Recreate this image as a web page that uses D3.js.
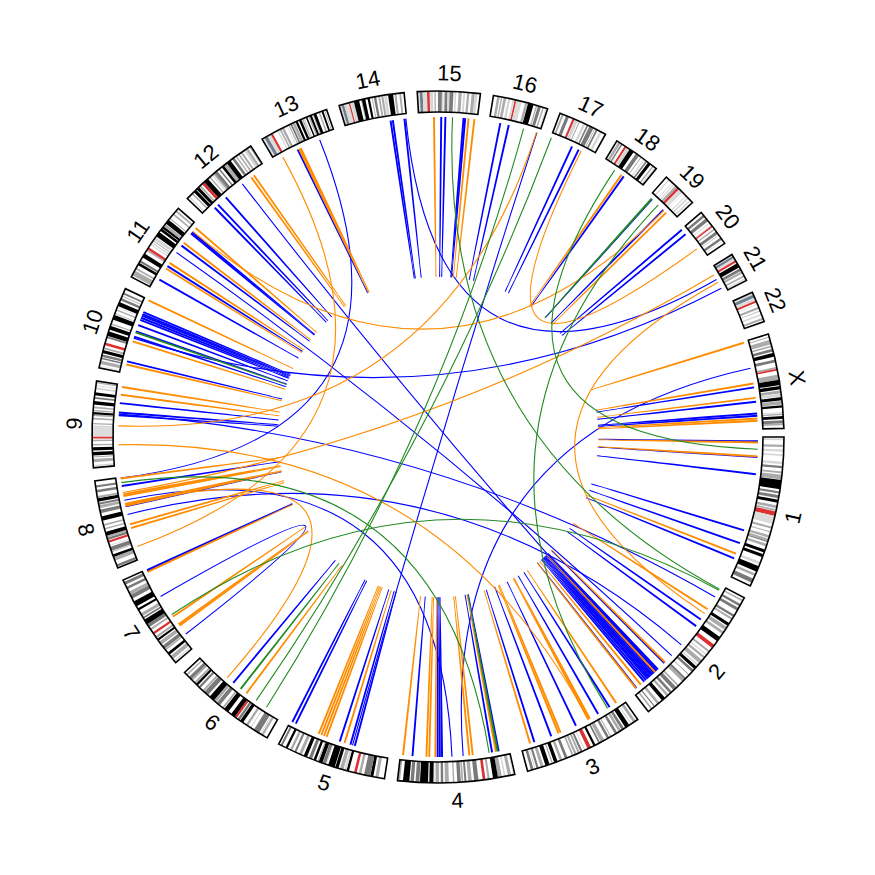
<!DOCTYPE html>
<html><head><meta charset="utf-8">
<script src="https://cdn.jsdelivr.net/npm/d3@7"></script>
<style>html,body{margin:0;padding:0;background:#fff}</style>
</head><body>
<svg id="chart" width="875" height="875"></svg>
<script>
// ---------- data ----------
const chromNames = ["1","2","3","4","5","6","7","8","9","10","11","12","13","14","15","16","17","18","19","20","21","22","X"];
const chromLengths = [249.25,243.20,198.02,191.15,180.92,171.12,159.14,146.36,141.21,135.53,135.01,133.85,115.17,107.35,102.53,90.35,81.20,78.08,59.13,63.03,48.13,51.30,155.27];

// cytobands: [chromosome, start Mb, end Mb, stain]
const bands = [
["1",2.3,5.3,"gpos25"],["1",12.7,16.2,"gpos50"],["1",20.4,23.9,"gpos25"],["1",28,30.8,"gpos25"],["1",40.1,44.1,"gpos25"],["1",46.8,50.7,"gpos75"],["1",56.1,59,"gpos50"],["1",61.3,68.9,"gpos50"],["1",69.7,84.9,"gpos100"],["1",88.4,92,"gpos75"],["1",94.7,99.7,"gpos75"],["1",102.2,107.2,"gpos100"],["1",111.8,116.1,"gpos50"],["1",117.8,120.7,"gpos50"],["1",121.5,128.9,"acen"],["1",128.9,142.6,"gvar"],["1",147,150.3,"gpos50"],["1",155,156.5,"gpos50"],["1",161.5,165.5,"gpos50"],["1",167.2,170.9,"gpos50"],["1",170.9,172.9,"gpos75"],["1",176,180.3,"gpos50"],["1",185.8,190.8,"gpos100"],["1",193.8,198.7,"gpos100"],["1",207.2,211.5,"gpos25"],["1",214.5,224.1,"gpos100"],["1",227.5,231.7,"gpos50"],["1",236.6,243.7,"gpos75"],
["2",4.4,7,"gpos50"],["2",12,16,"gpos75"],["2",19,23.9,"gpos75"],["2",32.1,36,"gpos75"],["2",38.3,41.5,"gpos50"],["2",47.8,52.9,"gpos100"],["2",55,61.3,"gpos50"],["2",64.1,68.6,"gpos50"],["2",75,83.3,"gpos100"],["2",90.5,96.8,"acen"],["2",102.7,106,"gpos50"],["2",110,112,"gpos25"],["2",115,118.8,"gpos50"],["2",122.1,129.1,"gpos50"],["2",131.7,134.3,"gpos25"],["2",136.1,141.5,"gpos100"],["2",143.4,147.9,"gpos75"],["2",153.9,154.9,"gpos75"],["2",161.3,164.9,"gpos75"],["2",164.9,169.7,"gpos50"],["2",177.7,180.6,"gpos50"],["2",183,189.4,"gpos75"],["2",192.9,197.4,"gpos75"],["2",200.3,204.3,"gpos50"],["2",208.2,214.5,"gpos100"],["2",220,224.2,"gpos50"],["2",229.2,231,"gpos75"],["2",234.7,237.3,"gpos50"],
["3",4,8.7,"gpos50"],["3",11.8,13.3,"gpos25"],["3",16.4,23.9,"gpos100"],["3",26.4,30.9,"gpos75"],["3",32.1,36.5,"gpos50"],["3",39.4,43.7,"gpos75"],["3",50.6,52.3,"gpos50"],["3",54.4,58.5,"gpos75"],["3",63.7,69.8,"gpos50"],["3",71.3,74.2,"gpos75"],["3",79.8,83.5,"gpos100"],["3",87.9,93.9,"acen"],["3",98.3,100,"gpos25"],["3",103.1,106.5,"gpos75"],["3",107.9,111.3,"gpos50"],["3",113.5,117.3,"gpos50"],["3",119,121.9,"gpos50"],["3",129.5,134,"gpos75"],["3",138.7,143,"gpos50"],["3",146.8,152.7,"gpos100"],["3",155,157,"gpos50"],["3",160.7,167.6,"gpos100"],["3",170.9,175.7,"gpos50"],["3",179.2,182.7,"gpos75"],["3",184.5,186,"gpos25"],["3",187.9,192.3,"gpos75"],
["4",2,3,"gpos25"],["4",6,11.3,"gpos50"],["4",15.2,17.8,"gpos25"],["4",21.3,27.7,"gpos50"],["4",27.7,35.8,"gpos100"],["4",41.2,44.6,"gpos50"],["4",48.2,52.7,"acen"],["4",59.5,66.6,"gpos75"],["4",70.5,76.3,"gpos50"],["4",79.1,82.4,"gpos75"],["4",84.3,87.1,"gpos50"],["4",88.2,94,"gpos75"],["4",98.8,101.1,"gpos50"],["4",107.7,114.1,"gpos50"],["4",116.8,120.8,"gpos75"],["4",123.8,128.8,"gpos50"],["4",128.8,131.1,"gpos25"],["4",132.8,139.5,"gpos100"],["4",141.5,154.6,"gpos100"],["4",155.6,161.8,"gpos75"],["4",164.5,170.1,"gpos75"],["4",171.9,182.3,"gpos100"],["4",187.1,191,"gpos50"],
["5",9.9,15,"gpos50"],["5",18.4,23.3,"gpos100"],["5",23.3,33.8,"gpos75"],["5",38.4,42.5,"gpos50"],["5",46.1,50.4,"acen"],["5",58.9,63,"gpos100"],["5",63,66.7,"gpos25"],["5",68.1,74,"gpos50"],["5",76.4,81.8,"gpos100"],["5",82.8,93.9,"gpos100"],["5",96.3,98.2,"gpos25"],["5",98.2,103.3,"gpos75"],["5",103.8,110.2,"gpos100"],["5",110.2,112.1,"gpos50"],["5",115,119.1,"gpos100"],["5",122,127.3,"gpos75"],["5",130.6,136.2,"gpos100"],["5",139.5,144.5,"gpos50"],["5",149.5,152.9,"gpos75"],["5",156.7,160.5,"gpos50"],["5",164.9,168.7,"gpos100"],["5",174.1,177.6,"gpos75"],
["6",7.1,10.6,"gpos50"],["6",11.6,13.4,"gpos25"],["6",15.2,25.2,"gpos75"],["6",30.4,32.1,"gpos25"],["6",36.6,40.5,"gpos50"],["6",46.2,51.8,"gpos100"],["6",52.9,57,"gpos75"],["6",58.8,62.6,"acen"],["6",62.6,70,"gpos100"],["6",75.9,83.9,"gpos100"],["6",84.9,88,"gpos50"],["6",93.1,99.5,"gpos75"],["6",100.6,105.5,"gpos50"],["6",105.5,114.6,"gpos100"],["6",118.3,126.1,"gpos75"],["6",127.1,130.3,"gpos50"],["6",135.2,139,"gpos75"],["6",141.2,145,"gpos100"],["6",145,149,"gpos50"],["6",152.5,155.5,"gpos50"],["6",155.5,161,"gpos75"],["6",164.5,167,"gpos50"],
["7",2.8,4.5,"gpos25"],["7",7.3,13.8,"gpos50"],["7",16.5,20.9,"gpos100"],["7",25.5,28,"gpos50"],["7",28.8,35,"gpos75"],["7",37.2,43.3,"gpos50"],["7",45.4,49,"gpos100"],["7",50.5,54,"gpos50"],["7",58,61.7,"acen"],["7",66.2,69.4,"gpos50"],["7",71.8,77.5,"gpos75"],["7",77.5,86.4,"gpos100"],["7",88.2,91.1,"gpos75"],["7",92.8,98,"gpos50"],["7",103.8,107.4,"gpos100"],["7",111.2,120.4,"gpos100"],["7",125.7,132.6,"gpos75"],["7",132.6,138.2,"gpos50"],["7",142.8,147,"gpos75"],["7",150.7,155.6,"gpos75"],
["8",2.2,6.2,"gpos75"],["8",12.7,19,"gpos50"],["8",19,23.3,"gpos100"],["8",27.4,28.8,"gpos50"],["8",29.7,36.5,"gpos75"],["8",38.3,39.7,"gpos25"],["8",43.8,47.2,"acen"],["8",48.1,52.2,"gpos75"],["8",52.2,55.5,"gpos50"],["8",55.5,61.6,"gpos100"],["8",66,68,"gpos50"],["8",72,74.6,"gpos50"],["8",80.5,87.9,"gpos100"],["8",93.3,99,"gpos75"],["8",101.6,106.2,"gpos50"],["8",107.2,110.5,"gpos75"],["8",112.1,117.7,"gpos100"],["8",118,121.4,"gpos50"],["8",127.3,131.5,"gpos75"],["8",135.4,138.9,"gpos75"],
["9",2.2,4.6,"gpos25"],["9",9,14.2,"gpos50"],["9",16.6,18.5,"gpos50"],["9",19.9,25.6,"gpos100"],["9",28,33.2,"gpos100"],["9",36.3,38.4,"gpos50"],["9",43,45.5,"gpos50"],["9",47.3,50.7,"acen"],["9",50.7,65.9,"gvar"],["9",65.9,68.7,"gpos25"],["9",70.6,72.6,"gpos50"],["9",78.4,81.1,"gpos50"],["9",84.1,86.9,"gpos50"],["9",86.9,90.4,"gpos100"],["9",91.8,93.9,"gpos50"],["9",96.6,99.2,"gpos50"],["9",102.6,108.2,"gpos100"],["9",112.1,114.9,"gpos75"],["9",117.7,122.5,"gpos100"],["9",127.5,130.6,"gpos25"],["9",133.1,134.5,"gpos25"],["9",137.4,139.3,"gpos50"],
["10",3,3.8,"gpos25"],["10",6.6,12.2,"gpos50"],["10",14.6,17.3,"gpos75"],["10",18.6,22.6,"gpos75"],["10",24.6,29.6,"gpos100"],["10",31.3,34.4,"gpos50"],["10",38,42.3,"acen"],["10",49.9,52.9,"gpos75"],["10",53.7,61.3,"gpos100"],["10",64.5,70.6,"gpos100"],["10",72.8,74.9,"gpos50"],["10",81.6,89.5,"gpos100"],["10",89.5,92.9,"gpos25"],["10",97,99.3,"gpos50"],["10",101.9,103,"gpos25"],["10",104.9,111.8,"gpos100"],["10",114.9,119.1,"gpos75"],["10",121.7,123.1,"gpos50"],["10",125.7,128.8,"gpos75"],
["11",2.8,11.7,"gpos50"],["11",13.8,16.9,"gpos50"],["11",21.7,26.1,"gpos100"],["11",27.2,31,"gpos75"],["11",36.4,43.5,"gpos100"],["11",48.8,51.6,"gpos50"],["11",51.6,55.7,"acen"],["11",59.9,61.7,"gpos25"],["11",63.4,65.9,"gpos25"],["11",67.8,69.1,"gpos50"],["11",70.5,75.5,"gpos25"],["11",77.1,85.6,"gpos100"],["11",88.3,92.8,"gpos100"],["11",93.4,97.2,"gpos100"],["11",97.2,102.1,"gpos50"],["11",103,110.6,"gpos100"],["11",112.7,114.5,"gpos50"],["11",121.2,123.9,"gpos50"],["11",127.8,130.8,"gpos50"],
["12",3.3,5.4,"gpos25"],["12",10.1,12.8,"gpos50"],["12",14.8,20,"gpos100"],["12",21.3,26.5,"gpos100"],["12",27.8,30.7,"gpos50"],["12",33.3,38.2,"acen"],["12",38.2,46.4,"gpos100"],["12",49.1,51.5,"gpos50"],["12",54.9,56.6,"gpos25"],["12",57.7,60.6,"gpos50"],["12",60.6,66,"gpos75"],["12",69.2,71.7,"gpos75"],["12",75.3,79.9,"gpos100"],["12",79.9,86,"gpos50"],["12",86,93.3,"gpos100"],["12",96.6,101.1,"gpos75"],["12",103.8,106,"gpos50"],["12",109,111.7,"gpos50"],["12",113.9,117.3,"gpos50"],["12",120.3,124.3,"gpos25"],["12",124.3,128.1,"gpos50"],["12",130.9,132.8,"gpos50"],
["13",0,4.5,"gvar"],["13",4.5,10,"stalk"],["13",10,16,"gvar"],["13",16,19.5,"acen"],["13",27.8,30,"gpos25"],["13",32.2,34.8,"gpos50"],["13",36.1,40.1,"gpos50"],["13",44.7,46,"gpos25"],["13",48,50,"gpos50"],["13",51.4,54.5,"gpos75"],["13",55.3,59.6,"gpos50"],["13",60.8,64.5,"gpos100"],["13",67,71,"gpos100"],["13",72.1,74.2,"gpos50"],["13",74.6,77,"gpos25"],["13",79,81.5,"gpos100"],["13",83.4,86,"gpos50"],["13",86,89.4,"gpos100"],["13",90.8,92.5,"gpos50"],["13",92.5,97.2,"gpos100"],["13",101.1,103.6,"gpos50"],["13",106.2,109.3,"gpos100"],["13",111,112.5,"gpos50"],
["14",0,3.7,"gvar"],["14",3.7,8.1,"stalk"],["14",8.1,16,"gvar"],["14",16,18.2,"acen"],["14",19.1,24.6,"gpos25"],["14",24.6,33.3,"gpos100"],["14",36.4,37.8,"gpos50"],["14",37.8,43.5,"gpos100"],["14",47.2,50.9,"gpos100"],["14",54.1,55.5,"gpos50"],["14",57.6,61.6,"gpos75"],["14",64.8,67.9,"gpos50"],["14",69.8,73.3,"gpos50"],["14",74.4,78.8,"gpos25"],["14",81.1,89.3,"gpos100"],["14",91.4,94.7,"gpos50"],["14",99.3,102.4,"gpos50"],
["15",0,3.9,"gvar"],["15",3.9,8.7,"stalk"],["15",8.7,15.8,"gvar"],["15",15.8,20,"acen"],["15",20.7,25.7,"gpos25"],["15",27.8,30,"gpos50"],["15",33.6,40.1,"gpos75"],["15",40.1,42.8,"gpos25"],["15",44.5,49.2,"gpos75"],["15",49.2,52.6,"gpos25"],["15",52.6,58.8,"gpos75"],["15",60.9,63.4,"gpos25"],["15",67.2,72.4,"gpos50"],["15",74.9,78,"gpos25"],["15",81,84.7,"gpos50"],["15",88.5,93.8,"gpos50"],["15",93.8,98,"gpos25"],
["16",6.3,10.5,"gpos50"],["16",12.6,14.8,"gpos50"],["16",16.8,21.2,"gpos50"],["16",24.2,28.1,"gpos25"],["16",31.8,34.6,"gpos25"],["16",35.3,38.2,"acen"],["16",38.2,47,"gvar"],["16",52.6,56.7,"gpos50"],["16",57.4,66.7,"gpos100"],["16",70.8,72.9,"gpos50"],["16",74.1,79.2,"gpos75"],["16",81.7,84.2,"gpos50"],["16",87.2,88.7,"gpos25"],
["17",3.3,6.5,"gpos50"],["17",10.7,16,"gpos75"],["17",22.2,25.8,"acen"],["17",25.8,31.8,"gpos25"],["17",33.5,35.2,"gpos50"],["17",40.9,44.9,"gpos25"],["17",47.4,50.2,"gpos75"],["17",52.1,59.5,"gpos75"],["17",61.3,62.6,"gpos50"],["17",64.2,67.1,"gpos75"],["17",70.9,74.8,"gpos25"],
["18",2.9,7.1,"gpos50"],["18",8.5,10.9,"gpos75"],["18",15.4,18.5,"acen"],["18",19.1,25,"gpos25"],["18",25,32.7,"gpos100"],["18",37.2,43.5,"gpos75"],["18",46.6,48.2,"gpos50"],["18",52.6,54.4,"gpos25"],["18",57,59.8,"gpos75"],["18",61.6,66.8,"gpos100"],["18",70.5,72.8,"gpos50"],["18",74.5,76.2,"gpos25"],
["19",5,7,"gpos25"],["19",12.6,13.8,"gpos25"],["19",16.2,18.2,"gpos25"],["19",20,24.4,"gpos50"],["19",24.4,28.6,"acen"],["19",28.6,32.4,"gvar"],["19",32.4,35.5,"gpos25"],["19",38.3,38.7,"gpos25"],["19",43.4,45.3,"gpos25"],["19",47.5,50.3,"gpos25"],["19",53.1,55.8,"gpos25"],
["20",5.1,9.2,"gpos75"],["20",12.1,17.9,"gpos75"],["20",21.3,22.5,"gpos25"],["20",25.7,27.5,"gpos25"],["20",27.5,30,"acen"],["20",33.5,35.8,"gpos50"],["20",39,43.9,"gpos75"],["20",45.6,47.5,"gpos25"],["20",51.2,55.5,"gpos75"],["20",57.5,58.4,"gpos25"],
["21",0,2.8,"gvar"],["21",2.8,6.8,"stalk"],["21",6.8,10.9,"gvar"],["21",10.9,14.3,"acen"],["21",16.4,24,"gpos100"],["21",25.7,30.5,"gpos75"],["21",31.5,35.3,"gpos50"],["21",38.7,41.5,"gpos50"],["21",44,46,"gpos25"],
["22",0,4.3,"gvar"],["22",4.3,9.4,"stalk"],["22",9.4,14.7,"gvar"],["22",14.7,17.9,"acen"],["22",20.3,21.5,"gpos25"],["22",25.5,29.2,"gpos50"],["22",32.2,33.4,"gpos50"],["22",37.9,40.3,"gpos25"],["22",44.6,48,"gpos50"],
["X",4.3,6,"gpos50"],["X",9.6,17.1,"gpos50"],["X",19.2,21.9,"gpos50"],["X",24.9,29.3,"gpos75"],["X",31.5,37.6,"gpos100"],["X",42.5,47.3,"gpos75"],["X",54.8,58.1,"gpos50"],["X",58.1,61,"acen"],["X",67.3,76,"gpos50"],["X",76,84.6,"gpos100"],["X",86.2,91.8,"gpos100"],["X",93.5,98.3,"gpos50"],["X",99.1,103.3,"gpos25"],["X",104.5,109.7,"gpos100"],["X",110.5,116.5,"gpos50"],["X",117.7,121.5,"gpos100"],["X",128.7,130.4,"gpos25"],["X",131.3,133.6,"gpos50"],["X",135.1,139.7,"gpos100"],["X",142.1,147.1,"gpos75"],["X",147.1,150.2,"gpos50"]
];

// intra-chromosomal near links (spikes): [chromosome, position Mb]
const blueSpikes = [
["1",6.8],["1",34.2],["1",64.5],["1",165.2],["1",188.7],["1",217.0],
["2",68.6],["2",82.8],["2",168.3],["2",184.0],["2",186.9],["2",189.8],["2",192.8],["2",196.7],["2",199.6],["2",202.5],["2",205.5],["2",208.4],["2",212.3],["2",216.2],["2",233.8],
["3",27.0],["3",50.4],["3",94.4],["3",141.3],["3",172.6],
["4",17.8],["4",29.5],["4",117.5],["4",121.4],["4",125.3],["4",169.3],
["5",59.5],["5",67.4],["5",86.9],["5",170.0],["5",176.8],
["6",98.7],
["7",155.2],["7",157.0],
["8",94.4],["8",130.6],
["9",87.0],["9",91.9],["9",108.5],
["10",20.3],["10",65.3],["10",75.1],["10",86.8],["10",96.6],["10",100.5],["10",104.4],["10",107.3],["10",111.2],
["11",17.9],["11",45.3],["11",88.8],["11",115.6],["11",118.6],
["12",20.9],["12",28.7],["12",47.3],
["13",43.7],
["14",78.3],["14",82.2],["14",102.7],
["15",38.6],["15",45.9],["15",77.7],["15",80.6],
["16",18.9],["16",34.0],
["17",39.6],["17",52.3],
["18",41.7],
["19",5.9],["19",33.2],
["20",0.5],["20",10.5],
["X",81.2],["X",106.6],["X",127.2],["X",131.1]
];
const orangeSpikes = [
["1",8.8],["1",33.2],["1",208.2],
["2",47.1],["2",166.4],["2",190.8],["2",224.1],["2",234.8],
["3",13.3],["3",67.1],["3",70.0],["3",123.8],["3",127.7],["3",180.4],
["4",22.7],["4",63.7],["4",69.6],["4",129.2],["4",140.0],["4",144.9],["4",185.9],
["5",78.1],["5",111.3],["5",116.2],["5",121.1],["5",126.0],
["6",69.4],
["7",44.2],["7",47.1],["7",63.7],["7",153.7],
["8",55.3],["8",62.2],["8",95.4],["8",98.3],["8",113.0],["8",115.9],["8",144.0],
["9",123.2],["9",136.9],
["10",14.5],["10",56.5],["10",133.7],
["11",40.4],["11",52.1],["11",95.1],["11",128.3],
["12",104.0],["12",109.9],
["13",46.6],["13",49.6],
["15",25.9],["15",86.5],["15",96.8],
["18",36.9],
["19",40.1],
["X",1.0],["X",74.4],["X",99.8],["X",136.0],["X",139.9]
];
const greenSpikes = [["4",19.7],["6",82.1],["10",73.1],["19",4.9]];

// links between distant loci: [chrA, posA, chrB, posB]
const blueLinks = [
["16",85.8,"5",64.4],["14",106.0,"21",22.9],["10",63.3,"21",40.5],["9",89.9,"2",22.7],
["8",80.7,"2",125.3],["11",74.6,"2",150.7],["12",85.4,"2",194.7],["X",48.0,"4",81.3],
["13",86.7,"8",145.5],["8",106.2,"4",100.9],["7",26.6,"7",105.8]
];
const orangeLinks = [
["2",56.9,"21",28.7],["17",58.2,"20",43.7],["11",121.5,"19",35.2],["21",14.1,"8",119.8],
["9",36.2,"3",71.0],["16",84.9,"9",69.4],["13",15.3,"8",22.1],["6",113.4,"8",100.3]
];
const greenLinks = [
["2",7.0,"15",59.1],["2",9.0,"7",68.6],["16",61.4,"6",27.4],["17",1.0,"6",48.9],
["19",21.5,"3",31.9],["8",137.4,"4",35.4],["18",23.2,"1",21.5]
];

// ---------- layout ----------
const cx = 438, cy = 437;
const rOut = 346, rIn = 325, rLink = 320, rLabel = 364;
const degPerMb = 0.1023, gapDeg = 2.18, startDeg = 0;
const spikeWidthMb = 1.5;

const stainColor = {gneg:"#ffffff", gpos25:"#d6d6d6", gpos50:"#ababab", gpos75:"#7a7a7a", gpos100:"#000000", acen:"#dd3030", gvar:"#dcdcdc", stalk:"#708090"};
const linkColor = {blue:"#0000ff", orange:"#ff8c00", green:"#228b22"};

const layout = {};
let cursor = startDeg;
chromNames.forEach((c, i) => {
  const span = chromLengths[i] * degPerMb;
  layout[c] = {s: cursor, e: cursor + span, scale: d3.scaleLinear().domain([0, chromLengths[i]]).range([cursor, cursor + span])};
  cursor += span + gapDeg;
});

const rad = d => d * Math.PI / 180;
const pt = (r, deg) => [cx + r * Math.cos(rad(deg)), cy + r * Math.sin(rad(deg))];

const svg = d3.select("#chart");
const g = svg.append("g");

// ideogram
const arc = d3.arc().innerRadius(rIn).outerRadius(rOut);
const toArc = (a0, a1) => arc({startAngle: rad(a0 + 90), endAngle: rad(a1 + 90)});
const ideo = g.append("g").attr("transform", `translate(${cx},${cy})`);

ideo.selectAll("path.base").data(chromNames).join("path").attr("class","base")
  .attr("d", c => toArc(layout[c].s, layout[c].e)).attr("fill", "#fff");
ideo.selectAll("path.band").data(bands).join("path").attr("class","band")
  .attr("d", b => toArc(layout[b[0]].scale(b[1]), layout[b[0]].scale(Math.min(b[2], chromLengths[chromNames.indexOf(b[0])]))))
  .attr("fill", b => stainColor[b[3]]);
ideo.selectAll("path.outline").data(chromNames).join("path").attr("class","outline")
  .attr("d", c => toArc(layout[c].s, layout[c].e)).attr("fill", "none")
  .attr("stroke", "#000").attr("stroke-width", 1.6);

// labels
g.selectAll("text.lab").data(chromNames).join("text").attr("class","lab")
  .each(function(c){
    const mid = (layout[c].s + layout[c].e) / 2;
    const p = pt(rLabel, mid);
    const rot = (mid > 180 && mid < 360) ? mid + 90 : mid - 90;
    d3.select(this).attr("transform", `translate(${p[0]},${p[1]}) rotate(${rot})`);
  })
  .attr("text-anchor","middle").attr("dominant-baseline","central")
  .style("font-family","'Liberation Sans', Arial, Helvetica, sans-serif")
  .style("font-size","22px").attr("fill","#000")
  .text(c => c);

// links
function linkPath(c1, p1, c2, p2) {
  const a = pt(rLink, layout[c1].scale(p1)), b = pt(rLink, layout[c2].scale(p2));
  const p = d3.path();
  p.moveTo(a[0], a[1]);
  p.quadraticCurveTo(cx, cy, b[0], b[1]);
  return p.toString();
}
const spikeToLink = s => [s[0], s[1], s[0], s[1] + spikeWidthMb];

const linkLayer = g.append("g").attr("fill","none").attr("stroke-width",1.1);
function drawLinks(list, col) {
  linkLayer.append("g").attr("stroke", linkColor[col])
    .selectAll("path").data(list).join("path")
    .attr("d", d => linkPath(d[0], d[1], d[2], d[3]));
}
drawLinks(blueSpikes.map(spikeToLink), "blue");
drawLinks(blueLinks, "blue");
drawLinks(orangeSpikes.map(spikeToLink), "orange");
drawLinks(orangeLinks, "orange");
drawLinks(greenSpikes.map(spikeToLink), "green");
drawLinks(greenLinks, "green");
</script>
</body></html>
